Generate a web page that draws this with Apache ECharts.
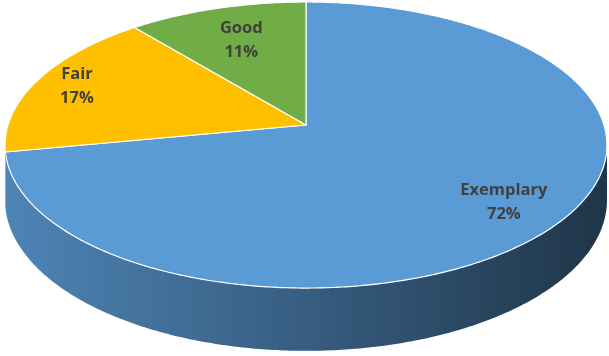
<!DOCTYPE html>
<html>
<head>
<meta charset="utf-8">
<script src="https://cdn.jsdelivr.net/npm/echarts@6/dist/echarts.min.js"></script>
<style>
html,body{margin:0;padding:0;background:#fff;}
#chart{width:609px;height:356px;}
</style>
</head>
<body>
<div id="chart"></div>
<script>
// Data (clockwise from 12 o'clock)
const categories = ['Exemplary', 'Fair', 'Good'];
const values = [72, 17, 11];
const colors = ['#5B9BD5', '#FFC000', '#70AD47'];

// 3D pie layout (projection of a tilted disc with perspective)
const layout = {
  cx: 306, cy: 125, R: 298, A: 122.72, persp: -0.14, depth: 54,
  labelR: [0.8, 0.85, 0.7]
};

const total = values.reduce((a, b) => a + b, 0);

function proj(theta, r, d) {
  const u = r * Math.sin(theta);
  const v = -r * Math.cos(theta);
  const den = 1 + layout.persp * v;
  return [
    layout.cx + layout.R * u / den,
    (layout.A * v + layout.cy) / den + (d || 0) / den
  ];
}

function arc(a0, a1, d) {
  const pts = [];
  const n = Math.max(2, Math.ceil(Math.abs(a1 - a0) / 0.01));
  for (let i = 0; i <= n; i++) {
    const t = a0 + (a1 - a0) * i / n;
    pts.push(proj(t, 1, d));
  }
  return pts;
}

// darken a hex colour by factor k (0..1)
function darken(c, k) {
  const n = parseInt(c.slice(1), 16);
  const r = Math.round(((n >> 16) & 255) * (1 - k));
  const g = Math.round(((n >> 8) & 255) * (1 - k));
  const b = Math.round((n & 255) * (1 - k));
  return 'rgb(' + r + ',' + g + ',' + b + ')';
}

const chart = echarts.init(document.getElementById('chart'), null, {renderer: 'canvas'});

// visible side range (front part of the cylinder)
const vt = -layout.persp;
const sideFrom = Math.acos(-vt);
const sideTo = 2 * Math.PI - Math.acos(-vt);

chart.setOption({
  animation: false,
  backgroundColor: '#fff',
  series: [{
    type: 'custom',
    coordinateSystem: 'none',
    data: values.map((v, i) => ({name: categories[i], value: v})),
    renderItem: function (params, api) {
      const i = params.dataIndex;
      let before = 0;
      for (let k = 0; k < i; k++) before += values[k];
      const a0 = before / total * 2 * Math.PI;
      const a1 = (before + values[i]) / total * 2 * Math.PI;
      const col = colors[i];
      const children = [];

      const s0 = Math.max(a0, sideFrom), s1 = Math.min(a1, sideTo);
      if (s1 > s0) {
        const topPts = arc(s0, s1, 0);
        const botPts = arc(s0, s1, layout.depth).reverse();
        children.push({
          type: 'polygon',
          shape: {points: topPts.concat(botPts)},
          style: {
            fill: new echarts.graphic.LinearGradient(0, 0, 609, 0, [
              {offset: 0, color: darken(col, 0.14)},
              {offset: 0.5, color: darken(col, 0.4)},
              {offset: 1, color: darken(col, 0.66)}
            ], true),
            stroke: null
          }
        });
      }

      const topFace = [proj(0, 0, 0)].concat(arc(a0, a1, 0));
      children.push({
        type: 'polygon',
        shape: {points: topFace},
        style: {fill: col, stroke: '#ffffff', lineWidth: 1.2, lineJoin: 'round'}
      });

      const mid = (a0 + a1) / 2;
      const lp = proj(mid, layout.labelR[i], 0);
      children.push({
        type: 'text',
        x: lp[0],
        y: lp[1],
        z2: 10,
        style: {
          text: categories[i] + '\n' + api.value(0) + '%',
          fill: '#404040',
          fontFamily: 'Open Sans',
          fontWeight: 'bold',
          fontSize: 16.5,
          lineHeight: 24,
          align: 'center',
          verticalAlign: 'middle'
        }
      });
      return {type: 'group', children: children};
    }
  }]
});
</script>
</body>
</html>
